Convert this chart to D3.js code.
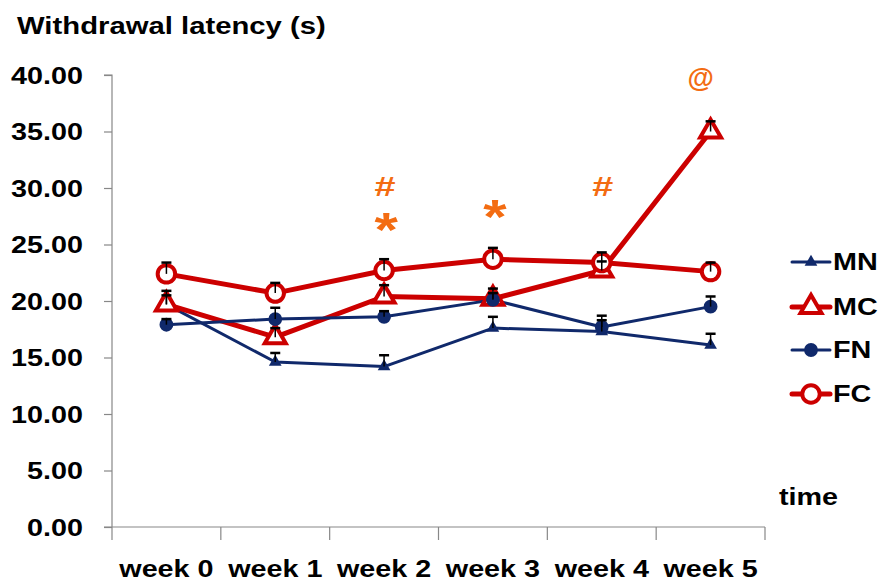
<!DOCTYPE html>
<html><head><meta charset="utf-8">
<script src="https://cdn.jsdelivr.net/npm/d3@7"></script>
<style>body{margin:0;background:#fff}svg{display:block}text{font-family:"Liberation Sans",Arial,sans-serif;font-weight:bold}</style>
</head><body><svg id="c" width="883" height="583"></svg>
<script>
const categories = ["week 0","week 1","week 2","week 3","week 4","week 5"];
const seriesNames = ["MN","MC","FN","FC"];
const MN = [19.7, 14.6, 14.2, 17.6, 17.3, 16.1];
const MC = [19.7, 16.8, 20.4, 20.2, 22.7, 35.0];
const FN = [17.9, 18.4, 18.6, 20.1, 17.7, 19.5];
const FC = [22.4, 20.7, 22.7, 23.7, 23.4, 22.6];
const MN_err = [0.8, 0.8, 1.0, 1.0, 1.0, 1.0];
const MC_err = [1.2, 0.8, 1.0, 0.9, 0.8, 0.9];
const FN_err = [0.5, 1.0, 0.5, 0.6, 1.0, 0.9];
const FC_err = [1.0, 0.9, 1.0, 1.0, 0.9, 0.8];
const yTicks = [0,5,10,15,20,25,30,35,40];
const annCats = ["week 2","week 2","week 3","week 4","week 5"];
const annVals = [29.8, 27.3, 28.4, 29.8, 39.8];
const annSyms = ["#","*","*","#","@"];

const svg = d3.select("#c");
const SX = 1.25;
const x = d3.scaleBand().domain(categories).range([112, 765]);
const y = d3.scaleLinear().domain([0, 40]).range([527, 75]);

const navy = "#10296b", red = "#cc0000", orange = "#f36c12";
const styles = {
  MN:{color:navy, lw:3, sym:d3.symbolTriangle, size:70, fill:navy, sw:0},
  MC:{color:red, lw:5, sym:d3.symbolTriangle, size:190, fill:"#fff", sw:4},
  FN:{color:navy, lw:3, sym:d3.symbolCircle, size:150, fill:navy, sw:0},
  FC:{color:red, lw:5, sym:d3.symbolCircle, size:240, fill:"#fff", sw:4}
};
const data = {MN, MC, FN, FC};
const errs = {MN:MN_err, MC:MC_err, FN:FN_err, FC:FC_err};

function stext(g, tx, ty, str, size, anchor, fill, sx) {
  return g.append("text")
    .attr("transform", `translate(${tx},${ty}) scale(${sx || SX},1)`)
    .attr("text-anchor", anchor || "start")
    .attr("font-size", size)
    .attr("fill", fill || "#000")
    .text(str);
}

// title
stext(svg, 17, 34, "Withdrawal latency (s)", 24, "start", "#000", 1.22);

// y axis
const yAxis = svg.append("g").attr("transform","translate(112,0)")
  .call(d3.axisLeft(y).tickValues(yTicks).tickSize(8).tickFormat(d3.format(".2f")));
yAxis.select(".domain").attr("stroke","#888").attr("stroke-width",1.2).attr("d","M-8,75H0V527");
yAxis.selectAll(".tick line").attr("stroke","#888").attr("stroke-width",1.2);
yAxis.selectAll(".tick text")
  .attr("font-size",23).attr("fill","#000").attr("font-family",null)
  .attr("x", -29/SX).attr("dy","0.36em")
  .attr("transform",`scale(${SX},1)`);

// x axis
const xAxis = svg.append("g").attr("transform","translate(0,527)")
  .call(d3.axisBottom(x).tickSize(0).tickPadding(0));
xAxis.select(".domain").attr("stroke","#888").attr("stroke-width",1.2).attr("d","M104,0H765");
xAxis.selectAll(".tick text")
  .attr("font-size",23).attr("fill","#000").attr("font-family",null)
  .attr("y",34).attr("dy","0.71em")
  .attr("transform",`scale(${SX},1)`);
const bounds = categories.map(c => x(c)).concat([x.range()[1]]);
xAxis.selectAll(".bnd").data(bounds).join("line").attr("class","bnd")
  .attr("x1",d=>d).attr("x2",d=>d).attr("y1",0).attr("y2",13)
  .attr("stroke","#888").attr("stroke-width",1.2);

const cx = c => x(c) + x.bandwidth()/2;

// lines
const line = d3.line().x((d,i)=>cx(categories[i])).y(d=>y(d));
seriesNames.forEach(s=>{
  svg.append("path").datum(data[s]).attr("d",line)
    .attr("fill","none").attr("stroke",styles[s].color).attr("stroke-width",styles[s].lw)
    .attr("stroke-linejoin","round");
});
// markers
seriesNames.forEach(s=>{
  const st = styles[s];
  svg.append("g").selectAll("path").data(data[s]).join("path")
    .attr("d", d3.symbol(st.sym, st.size))
    .attr("transform",(d,i)=>`translate(${cx(categories[i])},${y(d)})`)
    .attr("fill", st.fill).attr("stroke", st.sw ? st.color : "none").attr("stroke-width", st.sw);
});
// error bars (upper)
seriesNames.forEach(s=>{
  const g = svg.append("g").attr("stroke","#000").attr("stroke-width",1.5);
  data[s].forEach((v,i)=>{
    const px = cx(categories[i]);
    g.append("line").attr("x1",px).attr("x2",px).attr("y1",y(v)).attr("y2",y(v+errs[s][i]));
    g.append("line").attr("x1",px-5).attr("x2",px+5).attr("y1",y(v+errs[s][i])).attr("y2",y(v+errs[s][i])).attr("stroke-width",2.5);
  });
});

// annotations
const annSize = {"#":28, "*":48, "@":27};
const annDy = {"#":6, "*":27, "@":10};
const annDx = {"#":1, "*":2, "@":-10};
const annSX = {"#":1.35, "*":1.25, "@":1.0};
annSyms.forEach((sym,i)=>{
  stext(svg, cx(annCats[i]) + annDx[sym], y(annVals[i]) + annDy[sym], sym, annSize[sym], "middle", orange, annSX[sym]);
});

// legend
const legY = [262, 307, 350, 394];
seriesNames.forEach((s,i)=>{
  const st = styles[s];
  const g = svg.append("g");
  g.append("line").attr("x1",792).attr("x2",830).attr("y1",legY[i]).attr("y2",legY[i])
    .attr("stroke",st.color).attr("stroke-width",st.lw).attr("stroke-linecap","round");
  g.append("path").attr("d", d3.symbol(st.sym, st.size)).attr("transform",`translate(811,${legY[i]})`)
    .attr("fill", st.fill).attr("stroke", st.sw ? st.color : "none").attr("stroke-width", st.sw);
  stext(g, 833, legY[i]+8, s, 23, "start");
});
stext(svg, 779, 505, "time", 23, "start");
</script></body></html>
